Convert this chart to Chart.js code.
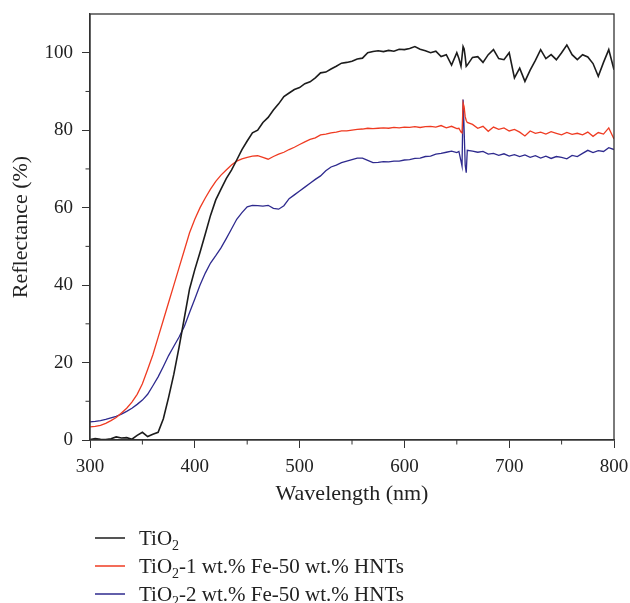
<!DOCTYPE html>
<html>
<head>
<meta charset="utf-8">
<script src="https://cdn.jsdelivr.net/npm/chart.js@4/dist/chart.umd.min.js"></script>
<style>
  body { margin: 0; background: #fff; }
  #wrap { position: relative; width: 630px; height: 603px; }
  #legend { position: absolute; left: 95px; top: 524px; font-family: 'Liberation Serif', serif; font-size: 21px; color: #222; }
  #legend .row { height: 28px; display: flex; align-items: center; white-space: nowrap; }
  #legend .swatch { width: 30px; height: 2px; margin-right: 14px; opacity: 0.75; }
  #legend sub { font-size: 14px; vertical-align: -5px; line-height: 0; }
</style>
</head>
<body>
<div id="wrap">
  <canvas id="chart" width="630" height="603"></canvas>
  <div id="legend"></div>
</div>
<script>
// wavelength (nm) sample points
const wavelengths = [
  300,305,310,315,320,325,330,335,340,345,
  350,355,360,365,370,375,380,385,390,395,
  400,405,410,415,420,425,430,435,440,445,
  450,455,460,465,470,475,480,485,490,495,
  500,505,510,515,520,525,530,535,540,545,
  550,555,560,565,570,575,580,585,590,595,
  600,605,610,615,620,625,630,635,640,645,
  650,652,654,655,656,657,658,659,660,
  665,670,675,680,685,690,695,700,
  705,710,715,720,725,730,735,740,745,750,
  755,760,765,770,775,780,785,790,795,800
];

// reflectance (%)
const tio2 = [
  0.1,0.4,0.2,0.1,0.3,0.8,0.5,0.6,0.2,1.2,
  2.0,0.9,1.5,2,5.5,11,17,24,31.5,39,
  44,48.5,53.2,58,62,64.8,67.5,69.7,72.3,75,
  77.2,79.3,80,82,83.3,85.2,86.8,88.7,89.6,90.5,
  91,92,92.5,93.5,94.8,95,95.8,96.5,97.3,97.5,
  97.8,98.4,98.6,100,100.3,100.5,100.3,100.6,100.4,100.9,
  100.8,101.1,101.6,100.9,100.5,100,100.4,99,99.5,96.8,
  100,98.5,96.5,99,101.6,101,99,96.5,96.8,
  98.8,99,97.5,99.5,100.8,98.5,98.2,100,
  93.5,96,92.6,95.5,98,100.8,98.5,99.5,98.2,100,
  102,99.5,98.2,99.5,98.9,97.2,93.9,97.5,100.8,95.6
];

const fe1 = [
  3.4,3.5,3.8,4.3,5.0,5.8,7.0,8.2,9.8,11.8,
  14.5,18.2,22,26.5,31,35.5,40,44.5,49,53.5,
  57,60,62.5,64.8,66.8,68.4,69.7,71,72,72.6,
  73,73.3,73.4,73,72.5,73.2,73.8,74.3,75,75.6,
  76.3,77,77.6,78,78.8,79,79.3,79.5,79.8,79.8,
  80,80.2,80.3,80.5,80.4,80.5,80.6,80.5,80.7,80.6,
  80.8,80.7,80.9,80.7,80.9,81,80.8,81.2,80.6,81,
  80.4,80.5,79.5,79.3,87,86,83.5,82.5,82,
  81.5,80.5,81,79.7,80.8,80.2,80.6,79.8,
  80.2,79.5,78.5,79.8,79.2,79.5,79,79.6,79.2,78.8,
  79.4,78.9,79.2,78.8,79.5,78.4,79.4,79,80.6,77.7
];

const fe2 = [
  4.7,4.8,5.0,5.3,5.7,6.1,6.7,7.4,8.2,9.2,
  10.3,11.8,14,16.3,19,21.8,24.2,26.6,29.3,32.9,
  36.4,40,43.1,45.7,47.6,49.6,52,54.5,57,58.7,
  60.2,60.6,60.5,60.4,60.6,59.8,59.6,60.5,62.3,63.3,
  64.3,65.3,66.3,67.3,68.2,69.5,70.5,71,71.6,72,
  72.4,72.8,72.8,72.2,71.6,71.7,71.9,71.8,72,72,
  72.3,72.4,72.7,72.8,73.2,73.3,73.8,74,74.3,74.6,
  74.2,74.5,72,70.7,87.9,80,71,69,74.8,
  74.6,74.3,74.5,73.8,74,73.5,73.9,73.3,
  73.7,73.2,73.6,73,73.4,72.8,73.3,72.7,73.2,73,
  72.6,73.5,73.2,74,74.8,74.2,74.7,74.5,75.5,75
];

const seriesLabels = ['TiO<sub>2</sub>', 'TiO<sub>2</sub>-1 wt.% Fe-50 wt.% HNTs', 'TiO<sub>2</sub>-2 wt.% Fe-50 wt.% HNTs'];
const seriesColors = ['#1c1c1c', '#ef3b22', '#2e2a8e'];
const xMinor = [350, 450, 550, 650, 750];
const yMinor = [10, 30, 50, 70, 90];

const tickFont = { family: 'Liberation Serif', size: 19 };
const titleFont = { family: 'Liberation Serif', size: 22 };
const ink = '#222';

function toPoints(values) {
  return wavelengths.map((w, i) => ({ x: w, y: values[i] }));
}

// plot frame and minor ticks
const frame = {
  id: 'frame',
  afterDraw(chart) {
    const { ctx, chartArea: a, scales: { x, y } } = chart;
    ctx.save();
    ctx.strokeStyle = '#333';
    ctx.lineWidth = 1.3;
    ctx.strokeRect(a.left, a.top, a.right - a.left, a.bottom - a.top);
    ctx.lineWidth = 1;
    ctx.beginPath();
    xMinor.forEach(v => {
      const px = x.getPixelForValue(v);
      ctx.moveTo(px, a.bottom);
      ctx.lineTo(px, a.bottom + 4.5);
    });
    yMinor.forEach(v => {
      const py = y.getPixelForValue(v);
      ctx.moveTo(a.left, py);
      ctx.lineTo(a.left - 4.5, py);
    });
    ctx.stroke();
    ctx.restore();
  }
};

new Chart(document.getElementById('chart'), {
  type: 'line',
  data: {
    datasets: [tio2, fe1, fe2].map((vals, i) => ({
      data: toPoints(vals),
      borderColor: seriesColors[i],
      borderWidth: i === 0 ? 1.6 : 1.3,
      pointRadius: 0,
      tension: 0,
      fill: false
    }))
  },
  options: {
    responsive: false,
    animation: false,
    devicePixelRatio: 1,
    layout: { padding: { left: 0, right: 16, top: 14, bottom: 96 } },
    plugins: { legend: { display: false }, tooltip: { enabled: false } },
    scales: {
      x: {
        type: 'linear',
        min: 300,
        max: 800,
        ticks: { stepSize: 100, font: tickFont, color: ink, padding: 8, maxRotation: 0 },
        grid: { drawOnChartArea: false, tickLength: 8, tickColor: '#333', tickWidth: 1 },
        border: { color: '#333', width: 1.3 },
        title: { display: true, text: 'Wavelength (nm)', font: titleFont, color: ink, padding: 0 },
        afterFit: s => { s.height = 67; s.paddingLeft = 0; s.paddingRight = 0; }
      },
      y: {
        min: 0,
        max: 110,
        ticks: { stepSize: 20, font: tickFont, color: ink, padding: 9 },
        afterBuildTicks: s => { s.ticks = s.ticks.filter(t => t.value <= 100); },
        grid: { drawOnChartArea: false, tickLength: 8, tickColor: '#333', tickWidth: 1 },
        border: { color: '#333', width: 1.3 },
        title: { display: true, text: 'Reflectance (%)', font: titleFont, color: ink, padding: { top: 8, bottom: 0 } },
        afterFit: s => { s.width = 90; s.paddingTop = 0; s.paddingBottom = 0; }
      }
    }
  },
  plugins: [frame]
});

document.getElementById('legend').innerHTML = seriesLabels.map((t, i) =>
  `<div class="row"><span class="swatch" style="background:${seriesColors[i]}"></span><span>${t}</span></div>`
).join('');
</script>
</body>
</html>
